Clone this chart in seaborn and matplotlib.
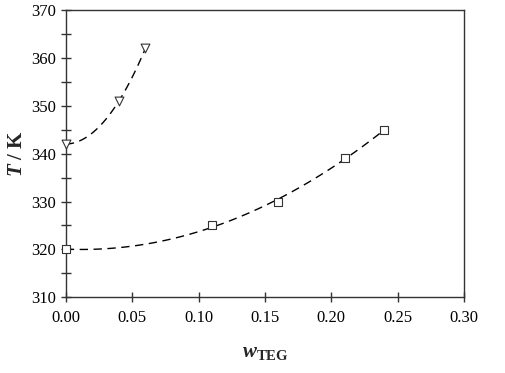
import numpy as np
import matplotlib
matplotlib.use("Agg")
import matplotlib.pyplot as plt
import seaborn as sns
from matplotlib.ticker import MultipleLocator

sns.set_style("ticks")
plt.rcParams['font.family'] = ['Liberation Serif', 'DejaVu Serif']
plt.rcParams['mathtext.fontset'] = 'custom'
plt.rcParams['mathtext.rm'] = 'Liberation Serif'
plt.rcParams['mathtext.it'] = 'Liberation Serif:italic'
plt.rcParams['mathtext.bf'] = 'Liberation Serif:bold'
plt.rcParams['mathtext.bfit'] = 'Liberation Serif:bold:italic'

# measured points
w_tri = [0.0, 0.04, 0.06]
T_tri = [342.0, 351.0, 362.0]
w_sq = [0.0, 0.11, 0.16, 0.21, 0.24]
T_sq = [320.0, 325.0, 330.0, 339.0, 345.0]

x_ticks = [0.00, 0.05, 0.10, 0.15, 0.20, 0.25, 0.30]
y_ticks = [310, 320, 330, 340, 350, 360, 370]

fig, ax = plt.subplots(figsize=(5.06, 3.73), dpi=100)
fig.subplots_adjust(left=0.13, right=0.917, top=0.973, bottom=0.203)

# dashed fit curves through each data set
for w, T in [(w_tri, T_tri), (w_sq, T_sq)]:
    coef = np.polyfit(w, T, 2)
    xs = np.linspace(min(w), max(w), 100)
    ax.plot(xs, np.polyval(coef, xs), color='black', linestyle=(0, (6, 4)), linewidth=1.0)

sns.scatterplot(x=w_tri, y=T_tri, ax=ax, marker='v', s=40, facecolor='white',
                edgecolor='#333333', linewidth=0.8, zorder=3, clip_on=False)
sns.scatterplot(x=w_sq, y=T_sq, ax=ax, marker='s', s=40, facecolor='white',
                edgecolor='#333333', linewidth=0.8, zorder=3, clip_on=False)

ax.set_xlim(0, 0.30)
ax.set_ylim(310, 370)
ax.set_xticks(x_ticks)
ax.set_xticklabels([f"{v:.2f}" for v in x_ticks])
ax.set_yticks(y_ticks)
ax.yaxis.set_minor_locator(MultipleLocator(5))

for s in ax.spines.values():
    s.set_color('#333333')
    s.set_linewidth(1.0)
ax.tick_params(axis='both', which='both', direction='inout', color='#333333',
               labelsize=12, labelcolor='black')
ax.tick_params(axis='both', which='major', length=7, width=1.0)
ax.tick_params(axis='y', which='minor', length=7, width=1.0)
ax.tick_params(axis='x', pad=6)

ax.set_xlabel(r'$\boldsymbol{w}_{\mathbf{TEG}}$', fontsize=15, labelpad=12)
ax.set_ylabel(r'$\boldsymbol{T}$ / K', fontsize=15, fontweight='bold', labelpad=3)

fig.savefig('out.png', dpi=100)
